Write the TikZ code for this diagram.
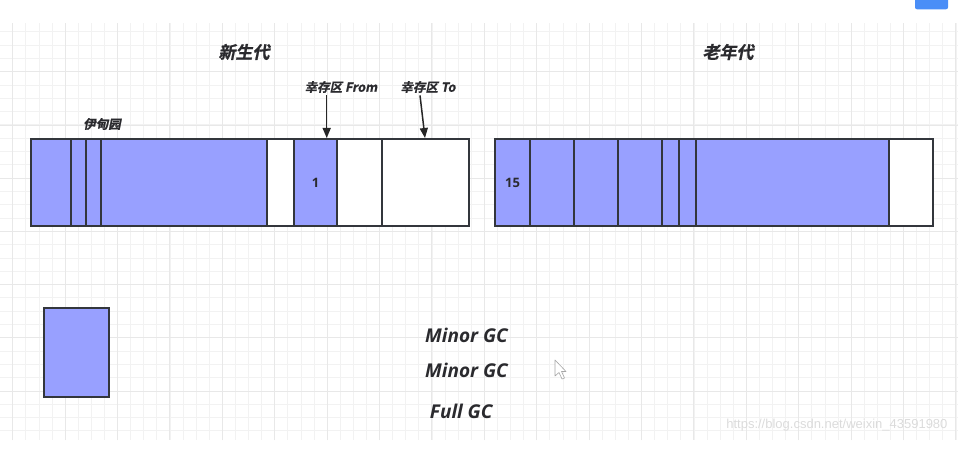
\documentclass[tikz,border=0pt]{standalone}
\usepackage{fontspec}
\setmainfont{Open Sans}
\setsansfont{Liberation Sans}
\newfontfamily\cjk[FakeSlant=0.2,FakeBold=1]{Noto Sans CJK SC Bold}
\usepackage{xcolor}
\usetikzlibrary{arrows.meta,positioning}
\definecolor{cellblue}{HTML}{98A0FF}
\definecolor{edgegray}{HTML}{33363C}
\definecolor{inkdark}{HTML}{2A2A2E}
\definecolor{btnblue}{HTML}{4A8EF7}

\begin{document}
\begin{tikzpicture}[
    x=1pt, y=-1pt,
    cell/.style={draw=edgegray, line width=1.9pt, fill=cellblue, minimum height=87pt, inner sep=0pt, outer sep=0pt,
      font=\bfseries\fontsize{13}{15}\selectfont, text=inkdark},
    empty/.style={cell, fill=white},
    title/.style={font=\cjk\fontsize{17}{20}\selectfont, text=inkdark},
    tag/.style={font=\cjk\fontsize{12.5}{15}\selectfont, text=inkdark},
    gclabel/.style={font=\bfseries\itshape\fontsize{19}{22}\selectfont, text=inkdark},
    arrow/.style={-{Triangle[length=10pt,width=8pt]}, line width=1.5pt, draw=black!85}
]
\useasboundingbox (0,0) rectangle (971,476);
% paper grid
\draw[gray!10, line width=0.6pt, xstep=13.1pt, ystep=13.3pt, shift={(12.6,31.7)}] (-12.6,-8.7) grid (945.4,408.3);
\draw[gray!18, line width=0.7pt, xstep=52.4pt, ystep=53.2pt, shift={(12.6,71.7)}] (-12.6,-48.7) grid (945.4,368.3);

% young generation
\node[cell, minimum width=40pt, anchor=west] (eden1) at (30.7,182.5) {};
\node[cell, minimum width=15.3pt, right=0pt of eden1] (eden2) {};
\node[cell, minimum width=15pt, right=0pt of eden2] (eden3) {};
\node[cell, minimum width=165.7pt, right=0pt of eden3] (eden4) {};
\node[empty, minimum width=27.3pt, right=0pt of eden4] (eden5) {};
\node[cell, minimum width=43.3pt, right=0pt of eden5] (from1) {1};
\node[empty, minimum width=44.4pt, right=0pt of from1] (from2) {};
\node[empty, minimum width=87.3pt, right=0pt of from2] (to1) {};

% old generation
\node[cell, minimum width=35pt, anchor=west] (old1) at (495,182.5) {15};
\node[cell, minimum width=44pt, right=0pt of old1] (old2) {};
\node[cell, minimum width=44pt, right=0pt of old2] (old3) {};
\node[cell, minimum width=43.7pt, right=0pt of old3] (old4) {};
\node[cell, minimum width=17.3pt, right=0pt of old4] (old5) {};
\node[cell, minimum width=17.3pt, right=0pt of old5] (old6) {};
\node[cell, minimum width=193pt, right=0pt of old6] (old7) {};
\node[empty, minimum width=43.4pt, right=0pt of old7] (old8) {};

% labels
\node[title] (young) at (244,52) {新生代};
\node[title] (tenured) at (728,52) {老年代};
\node[tag] (edenlbl) at (102,124) {伊甸园};
\node[tag] (fromlbl) at (341,87) {幸存区 From};
\node[tag] (tolbl) at (428,87) {幸存区 To};

\coordinate (fromtip) at (326.7,138);
\coordinate (totip) at (425,138);
\draw[arrow] ([xshift=-14.3pt,yshift=1pt]fromlbl.south) -- (fromtip);
\draw[arrow] ([xshift=-8pt,yshift=1pt]tolbl.south) -- (totip);

% new object
\node[cell, minimum width=65pt, minimum height=89pt] (obj) at (76.5,352.8) {};

\node[gclabel] (minor1) at (466.5,335) {Minor GC};
\node[gclabel] (minor2) at (466.5,370.7) {Minor GC};
\node[gclabel] (full) at (461.2,411.7) {Full GC};

% screen bits
\draw[gray!70, fill=white, line width=0.6pt, line join=round]
  (555,360) -- (555,376) -- (559,372.5) -- (562,379) -- (564.5,378) -- (561.5,371.5) -- (566,371.5) -- cycle;
\fill[btnblue, rounded corners=2pt] (915,-4) rectangle (948,9.3);
\node[font=\sffamily\fontsize{13}{15}\selectfont, text=gray!28, anchor=east] (mark) at (951,425) {https://blog.csdn.net/weixin\_43591980};
\end{tikzpicture}
\end{document}
